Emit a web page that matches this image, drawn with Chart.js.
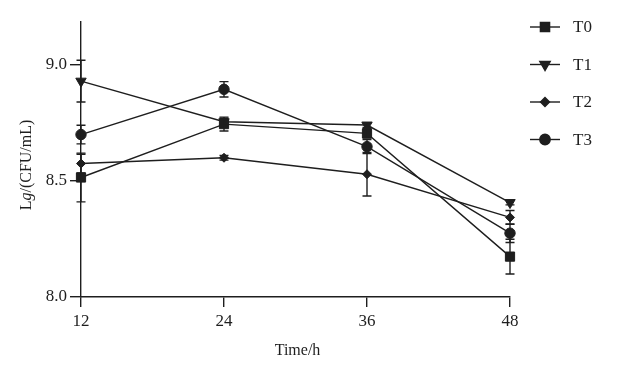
<!DOCTYPE html>
<html>
<head>
<meta charset="utf-8">
<script src="https://cdn.jsdelivr.net/npm/chart.js@4/dist/chart.umd.min.js"></script>
<style>
  html, body { margin: 0; padding: 0; background: #fff; }
  #wrap { width: 617px; height: 371px; }
</style>
</head>
<body>
<div id="wrap"><canvas id="cfuChart" width="617" height="371"></canvas></div>
<script>
const times = [12, 24, 36, 48];
const seriesNames = ['T0', 'T1', 'T2', 'T3'];
const t0 = [8.515, 8.745, 8.705, 8.174];
const t1 = [8.93, 8.755, 8.741, 8.407];
const t2 = [8.575, 8.60, 8.529, 8.343];
const t3 = [8.70, 8.895, 8.648, 8.275];
const t0Err = [0.105, 0.03, 0.02, 0.075];
const t1Err = [0.09, 0.015, 0.01, 0.01];
const t2Err = [0.04, 0.01, 0.094, 0.03];
const t3Err = [0.04, 0.033, 0.03, 0.04];
const yTicks = [8.0, 8.5, 9.0];

const ink = '#1e1e1e';
const serif = "'Liberation Serif', 'Times New Roman', serif";

const markers = [
  { pointStyle: 'rect', radius: 6.5, rotation: 0 },
  { pointStyle: 'triangle', radius: 6, rotation: 180 },
  { pointStyle: 'rectRot', radius: 4.5, rotation: 0 },
  { pointStyle: 'circle', radius: 5.2, rotation: 0 }
];

function makeSet(name, vals, errs, i) {
  return {
    label: name,
    data: times.map((t, j) => ({ x: t, y: vals[j] })),
    errors: errs,
    borderColor: ink,
    backgroundColor: ink,
    borderWidth: 1.4,
    pointStyle: markers[i].pointStyle,
    pointRadius: markers[i].radius,
    pointRotation: markers[i].rotation,
    pointBackgroundColor: ink,
    pointBorderColor: ink,
    pointBorderWidth: 1,
    tension: 0,
    clip: false
  };
}

// error bars with small caps
const errorBars = {
  id: 'errorBars',
  afterDatasetsDraw(chart) {
    const ctx = chart.ctx;
    const ys = chart.scales.y;
    ctx.save();
    ctx.strokeStyle = ink;
    ctx.lineWidth = 1.4;
    chart.data.datasets.forEach((ds, i) => {
      const meta = chart.getDatasetMeta(i);
      meta.data.forEach((pt, j) => {
        const e = ds.errors[j];
        if (!e) return;
        const v = ds.data[j].y;
        const top = ys.getPixelForValue(v + e);
        const bot = ys.getPixelForValue(v - e);
        ctx.beginPath();
        ctx.moveTo(pt.x, top); ctx.lineTo(pt.x, bot);
        ctx.moveTo(pt.x - 4.5, top); ctx.lineTo(pt.x + 4.5, top);
        ctx.moveTo(pt.x - 4.5, bot); ctx.lineTo(pt.x + 4.5, bot);
        ctx.stroke();
      });
    });
    ctx.restore();
  }
};

// legend on the right: line + marker + label, and the axis titles
const sideBits = {
  id: 'sideBits',
  afterDraw(chart) {
    const ctx = chart.ctx;
    const area = chart.chartArea;
    ctx.save();
    chart.data.datasets.forEach((ds, i) => {
      const cy = 27 + i * 37.5;
      ctx.strokeStyle = ink;
      ctx.fillStyle = ink;
      ctx.lineWidth = 1.4;
      ctx.beginPath();
      ctx.moveTo(530, cy); ctx.lineTo(560, cy);
      ctx.stroke();
      Chart.helpers.drawPoint(ctx, {
        pointStyle: markers[i].pointStyle,
        radius: markers[i].radius,
        rotation: markers[i].rotation,
        borderWidth: 1
      }, 545, cy);
      ctx.font = '17px ' + serif;
      ctx.textAlign = 'left';
      ctx.textBaseline = 'middle';
      ctx.fillText(ds.label, 573, cy + 1);
    });

    // x title
    ctx.font = '16px ' + serif;
    ctx.textAlign = 'center';
    ctx.textBaseline = 'middle';
    ctx.fillText('Time/h', (area.left + area.right) / 2 + 2, 351);

    // y title with italic g
    const parts = [
      { t: 'L', f: '16px ' + serif },
      { t: 'g', f: 'italic 16px ' + serif },
      { t: '/(CFU/mL)', f: '16px ' + serif }
    ];
    let total = 0;
    parts.forEach(p => { ctx.font = p.f; p.w = ctx.measureText(p.t).width; total += p.w; });
    ctx.translate(27, 165);
    ctx.rotate(-Math.PI / 2);
    ctx.textAlign = 'left';
    let x = -total / 2;
    parts.forEach(p => { ctx.font = p.f; ctx.fillText(p.t, x, 0); x += p.w; });
    ctx.restore();
  }
};

const ctx = document.getElementById('cfuChart').getContext('2d');
const cfuChart = new Chart(ctx, {
  type: 'line',
  data: {
    datasets: [
      makeSet(seriesNames[0], t0, t0Err, 0),
      makeSet(seriesNames[1], t1, t1Err, 1),
      makeSet(seriesNames[2], t2, t2Err, 2),
      makeSet(seriesNames[3], t3, t3Err, 3)
    ]
  },
  options: {
    responsive: false,
    animation: false,
    layout: { padding: { left: 0, top: 22, right: 107, bottom: 0 } },
    plugins: { legend: { display: false }, tooltip: { enabled: false } },
    scales: {
      x: {
        type: 'linear',
        min: times[0],
        max: times[times.length - 1],
        afterFit: s => { s.height = 74; },
        afterBuildTicks: s => { s.ticks = times.map(v => ({ value: v })); },
        grid: { drawOnChartArea: false, drawTicks: true, tickLength: 10, color: ink, lineWidth: 1.4 },
        border: { display: true, color: ink, width: 1.4 },
        ticks: { color: ink, padding: 4, font: { family: serif, size: 17 } }
      },
      y: {
        type: 'linear',
        min: 8.0,
        max: 9.185,
        afterFit: s => { s.width = 81; },
        afterBuildTicks: s => { s.ticks = yTicks.map(v => ({ value: v })); },
        grid: { drawOnChartArea: false, drawTicks: true, tickLength: 11, color: ink, lineWidth: 1.4 },
        border: { display: true, color: ink, width: 1.4 },
        ticks: { color: ink, padding: 3, font: { family: serif, size: 17 }, callback: v => Number(v).toFixed(1) }
      }
    }
  },
  plugins: [errorBars, sideBits]
});
window.cfuChart = cfuChart;
</script>
</body>
</html>
